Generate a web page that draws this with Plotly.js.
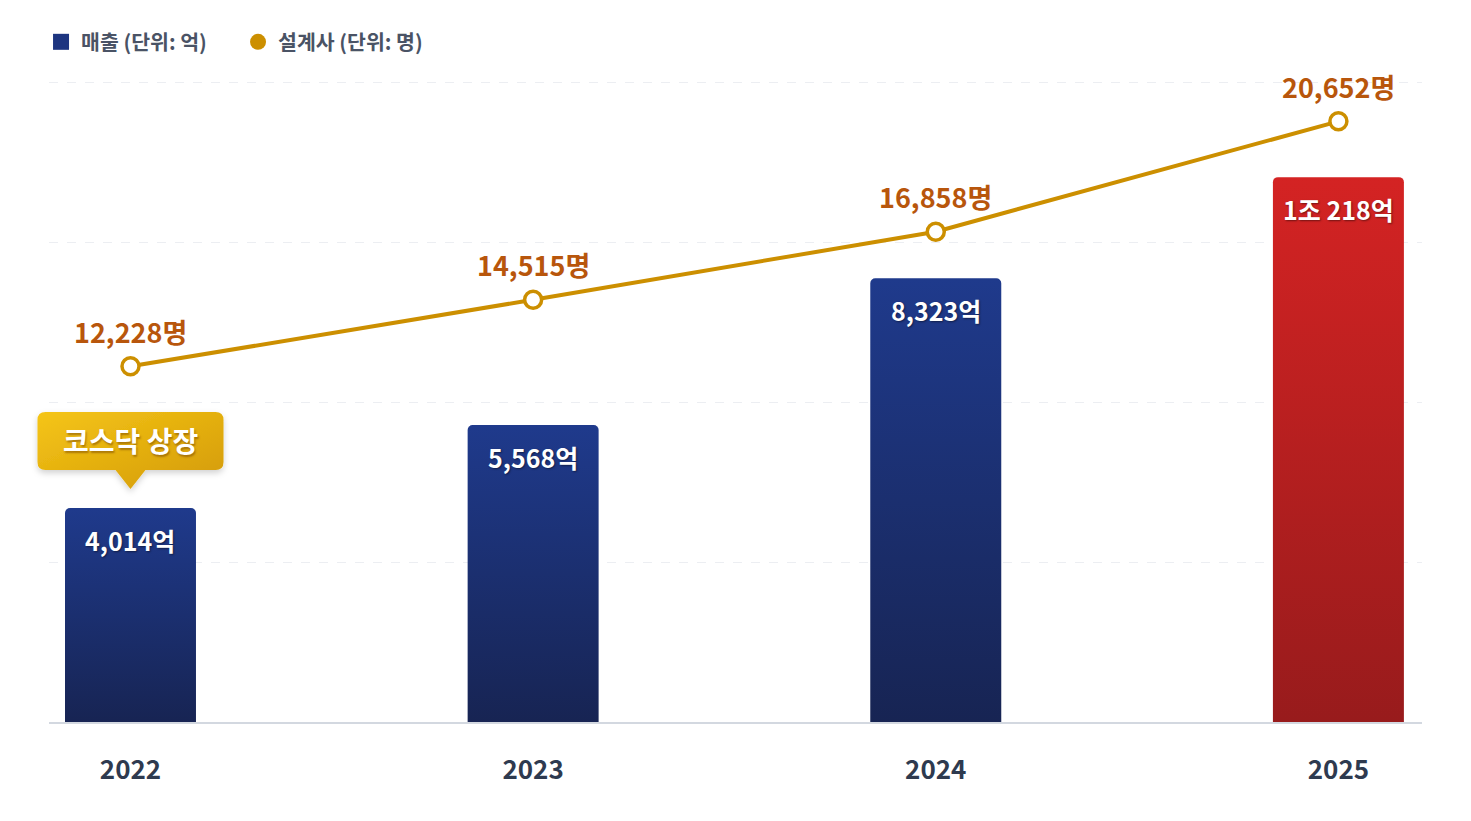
<!DOCTYPE html>
<html>
<head>
<meta charset="utf-8">
<script src="https://cdn.plot.ly/plotly-3.0.1.min.js"></script>
<style>html,body{margin:0;padding:0;background:#fff;}#chart{width:1471px;height:821px;}</style>
</head>
<body>
<div id="chart"></div>
<script>
const years = ['2022', '2023', '2024', '2025'];
const revenue = [4014, 5568, 8323, 10218];          // 매출 (억)
const planners = [12228, 14515, 16858, 20652];      // 설계사 (명)
const revenueName = '매출 (단위: 억)';
const plannerName = '설계사 (단위: 명)';
const calloutText = '코스닥 상장';
const calloutIndex = 0;

const FONT = '"Noto Sans CJK KR", "Noto Sans", sans-serif';
const NAVY = '#1d3580';
const RED = '#c42222';
const GOLD = '#cc8f00';

function fmt(n) { return n.toLocaleString('en-US'); }
function revLabel(v) {
  if (v >= 10000) return Math.floor(v / 10000) + '조 ' + fmt(v % 10000) + '억';
  return fmt(v) + '억';
}

const idx = years.map((y, i) => i);
const barColors = revenue.map((v, i) => i === revenue.length - 1 ? RED : NAVY);

const data = [
  {
    type: 'bar', x: years, y: revenue, name: revenueName, showlegend: false,
    marker: { color: barColors, cornerradius: 5, line: { width: 0 } },
    hoverinfo: 'skip'
  },
  {
    type: 'scatter', mode: 'lines+markers', x: years, y: planners, yaxis: 'y2',
    name: plannerName, showlegend: false,
    line: { color: GOLD, width: 4 },
    marker: { color: '#ffffff', size: 17, line: { color: GOLD, width: 3.5 } },
    hoverinfo: 'skip'
  },
  // legend entries
  { type: 'scatter', mode: 'markers', x: [null], y: [null], name: revenueName,
    marker: { symbol: 'square', size: 18, color: NAVY } },
  { type: 'scatter', mode: 'markers', x: [null], y: [null], name: plannerName,
    marker: { symbol: 'circle', size: 19, color: GOLD } }
];

const annotations = [];
revenue.forEach((v, i) => {
  annotations.push({
    x: idx[i], y: v, xref: 'x', yref: 'y', showarrow: false,
    text: revLabel(v), yanchor: 'middle', yshift: -32,
    font: { family: FONT, size: 25, color: '#ffffff', weight: 700, shadow: '1px 1px 2px rgba(0,0,0,0.45)' }
  });
});
planners.forEach((v, i) => {
  annotations.push({
    x: idx[i], y: v, xref: 'x', yref: 'y2', showarrow: false,
    text: fmt(v) + '명', yanchor: 'middle', yshift: 35,
    font: { family: FONT, size: 27, color: '#b8560c', weight: 700 }
  });
});
annotations.push({
  x: idx[calloutIndex], y: revenue[calloutIndex], xref: 'x', yref: 'y', showarrow: false,
  text: calloutText, yanchor: 'middle', yshift: 68,
  font: { family: FONT, size: 28, color: '#ffffff', weight: 700, shadow: '1px 2px 2px rgba(120,70,0,0.55)' }
});

const shapes = [{
  type: 'path', layer: 'above',
  xref: 'x', yref: 'y', xsizemode: 'pixel', ysizemode: 'pixel',
  xanchor: idx[calloutIndex], yanchor: revenue[calloutIndex],
  path: 'M -85,96 L 85,96 Q 93,96 93,88 L 93,46 Q 93,38 85,38 L 15,38 L 0,19 L -15,38 L -85,38 Q -93,38 -93,46 L -93,88 Q -93,96 -85,96 Z',
  fillcolor: '#e6b010', line: { width: 0 }
}];

const layout = {
  width: 1471, height: 821,
  margin: { l: 49, r: 49, t: 80, b: 99 },
  paper_bgcolor: '#ffffff', plot_bgcolor: '#ffffff',
  font: { family: FONT },
  bargap: 0.6747,
  showlegend: true,
  legend: {
    orientation: 'h', x: -0.0058, xanchor: 'left', y: 1.0592, yanchor: 'middle',
    font: { family: FONT, size: 20.5, color: '#4a5365', weight: 700 },
    entrywidth: 152, entrywidthmode: 'pixels', itemwidth: 30,
    bgcolor: 'rgba(0,0,0,0)', traceorder: 'normal'
  },
  xaxis: {
    type: 'category', range: [-0.2024, 3.2076], showgrid: false, zeroline: false,
    showline: true, linecolor: '#d3d8e0', linewidth: 2, ticks: '',
    ticklabelstandoff: 24,
    tickfont: { family: FONT, size: 26, color: '#2e3a4f', weight: 700 }
  },
  yaxis: {
    range: [0, 12040], tick0: 0, dtick: 3000, showgrid: true, gridcolor: '#eceef2', griddash: 'dash',
    gridwidth: 1, zeroline: false, showticklabels: false, ticks: ''
  },
  yaxis2: {
    overlaying: 'y', range: [0, 22073], showgrid: false, zeroline: false,
    showticklabels: false, ticks: ''
  },
  annotations: annotations,
  shapes: shapes
};

const gd = document.getElementById('chart');
Plotly.newPlot(gd, data, layout, { staticPlot: true, displayModeBar: false }).then(() => {
  const ns = 'http://www.w3.org/2000/svg';
  const svg = gd.querySelector('.main-svg');
  let defs = svg.querySelector('defs');
  if (!defs) { defs = document.createElementNS(ns, 'defs'); svg.insertBefore(defs, svg.firstChild); }
  function grad(id, stops, x2, y2) {
    const g = document.createElementNS(ns, 'linearGradient');
    g.setAttribute('id', id);
    g.setAttribute('x1', '0'); g.setAttribute('y1', '0');
    g.setAttribute('x2', String(x2)); g.setAttribute('y2', String(y2));
    stops.forEach(s => {
      const st = document.createElementNS(ns, 'stop');
      st.setAttribute('offset', s[0]);
      st.setAttribute('stop-color', s[1]);
      g.appendChild(st);
    });
    defs.appendChild(g);
  }
  grad('gNavy', [[0, '#1f3a8c'], [1, '#172453']], 0, 1);
  grad('gRed', [[0, '#d42323'], [1, '#981b1c']], 0, 1);
  grad('gGold', [[0, '#f5c518'], [1, '#d39a05']], 1, 1);
  const f = document.createElementNS(ns, 'filter');
  f.setAttribute('id', 'shd'); f.setAttribute('x', '-20%'); f.setAttribute('y', '-20%');
  f.setAttribute('width', '140%'); f.setAttribute('height', '150%');
  const ds = document.createElementNS(ns, 'feDropShadow');
  ds.setAttribute('dx', '0'); ds.setAttribute('dy', '3'); ds.setAttribute('stdDeviation', '3');
  ds.setAttribute('flood-color', '#000'); ds.setAttribute('flood-opacity', '0.18');
  f.appendChild(ds); defs.appendChild(f);

  const bars = gd.querySelectorAll('.barlayer .point path');
  bars.forEach((p, i) => { p.style.fill = (i === revenue.length - 1) ? 'url(#gRed)' : 'url(#gNavy)'; });
  const sh = gd.querySelector('.shapelayer path');
  if (sh) {
    sh.style.fill = 'url(#gGold)';
    sh.removeAttribute('clip-path');
    let par = sh.parentNode;
    while (par && par !== svg) { if (par.getAttribute && par.getAttribute('clip-path')) par.removeAttribute('clip-path'); par = par.parentNode; }
    const wrap = document.createElementNS(ns, 'g');
    wrap.setAttribute('filter', 'url(#shd)');
    sh.parentNode.insertBefore(wrap, sh);
    wrap.appendChild(sh);
  }
});
</script>
</body>
</html>
